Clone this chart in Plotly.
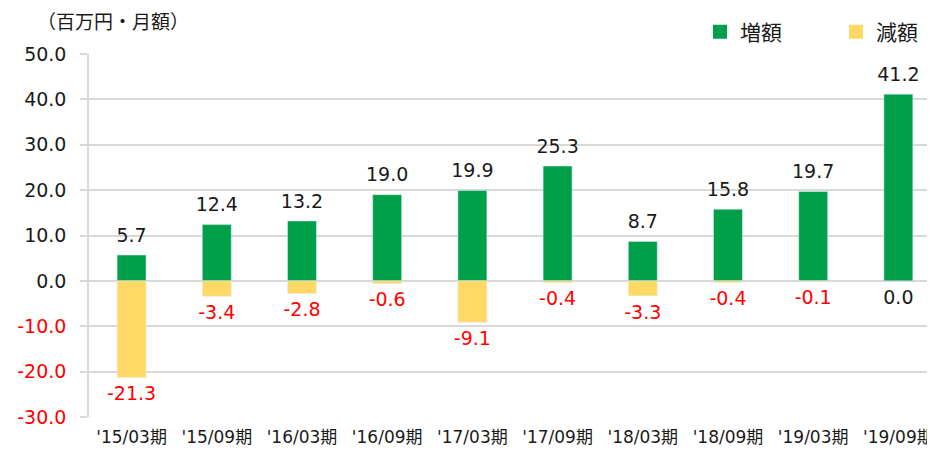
import plotly.graph_objects as go

categories = ["'15/03期", "'15/09期", "'16/03期", "'16/09期", "'17/03期",
              "'17/09期", "'18/03期", "'18/09期", "'19/03期", "'19/09期"]
increase = [5.7, 12.4, 13.2, 19.0, 19.9, 25.3, 8.7, 15.8, 19.7, 41.2]
decrease = [-21.3, -3.4, -2.8, -0.6, -9.1, -0.4, -3.3, -0.4, -0.1, 0.0]
y_ticks = [50, 40, 30, 20, 10, 0, -10, -20, -30]

GREEN = "#00A04A"
YELLOW = "#FFD966"
RED = "#FF0000"
FONT = "DejaVu Sans, Noto Sans CJK JP"

fig = go.Figure()
fig.add_trace(go.Bar(x=categories, y=increase, name="増額", marker_color=GREEN,
                     width=0.34, hoverinfo="skip", showlegend=False))
fig.add_trace(go.Bar(x=categories, y=decrease, name="減額", marker_color=YELLOW,
                     width=0.34, hoverinfo="skip", showlegend=False))

# legend entries with square swatches
fig.add_trace(go.Scatter(x=[None], y=[None], mode="markers", name="増額",
                         marker=dict(symbol="square", size=14, color=GREEN)))
fig.add_trace(go.Scatter(x=[None], y=[None], mode="markers", name="減額",
                         marker=dict(symbol="square", size=14, color=YELLOW)))

fig.add_trace(go.Scatter(x=categories, y=increase, mode="markers+text",
                         marker=dict(size=12, opacity=0),
                         text=[f"{v:.1f}" for v in increase],
                         textposition="top center",
                         textfont=dict(size=19, color="#1a1a1a", family=FONT),
                         showlegend=False, hoverinfo="skip"))
fig.add_trace(go.Scatter(x=categories, y=decrease, mode="markers+text",
                         marker=dict(size=12, opacity=0),
                         text=[f"{v:.1f}" for v in decrease],
                         textposition="bottom center",
                         textfont=dict(size=19, family=FONT,
                                       color=[RED if v < 0 else "#1a1a1a" for v in decrease]),
                         showlegend=False, hoverinfo="skip"))

ticktext = [f"<span style='color:{RED}'>{v:.1f}</span>" if v < 0 else f"{v:.1f}" for v in y_ticks]

fig.update_layout(
    width=927, height=444,
    barmode="relative",
    plot_bgcolor="white", paper_bgcolor="white",
    margin=dict(l=81, r=0, t=46, b=35, autoexpand=False),
    font=dict(family=FONT, size=16, color="#1a1a1a"),
    legend=dict(orientation="h", x=(700 - 89) / 846, xanchor="left",
                yref="container", y=1 - 24 / 444, yanchor="middle",
                font=dict(size=21), entrywidth=91, entrywidthmode="pixels",
                bgcolor="rgba(0,0,0,0)"),
    xaxis=dict(showgrid=False, showline=False, ticks="", automargin=False,
               ticklabelstandoff=8,
               tickfont=dict(size=17), range=[-0.5, 9.43]),
    yaxis=dict(range=[-30, 50], tickvals=y_ticks, ticktext=ticktext, automargin=False,
               showgrid=True, gridcolor="#D9D9D9", gridwidth=1.5,
               zeroline=True, zerolinecolor="#D9D9D9", zerolinewidth=1.5,
               ticks="outside", ticklen=7, tickcolor="#D9D9D9", tickwidth=1.5,
               showline=True, linecolor="#D9D9D9", linewidth=1.5,
               ticklabelstandoff=10,
               tickfont=dict(size=19)),
    annotations=[dict(text="（百万円・月額）", xref="paper", yref="paper",
                      x=(35 - 89) / 846, y=1 + 32 / 363, xanchor="left", yanchor="middle",
                      showarrow=False, font=dict(size=19))],
)

fig.write_html("out.html")
